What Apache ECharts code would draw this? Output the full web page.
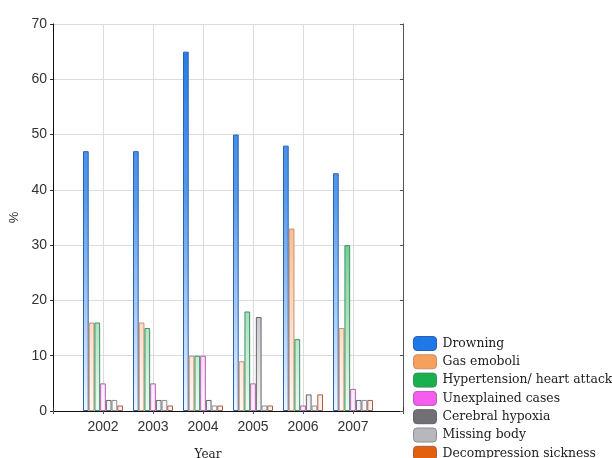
<!DOCTYPE html>
<html>
<head>
<meta charset="utf-8">
<script src="https://cdn.jsdelivr.net/npm/echarts@6/dist/echarts.min.js"></script>
<style>
html,body{margin:0;padding:0;background:#fff;}
#chart{width:612px;height:458px;}
</style>
</head>
<body>
<div id="chart"></div>
<script>
// ---- data ----
const years = ['2002', '2003', '2004', '2005', '2006', '2007'];
const seriesNames = ['Drowning', 'Gas emoboli', 'Hypertension/ heart attack', 'Unexplained cases', 'Cerebral hypoxia', 'Missing body', 'Decompression sickness'];
const drowning = [47, 47, 65, 50, 48, 43];
const gasEmboli = [16, 16, 10, 9, 33, 15];
const hypertension = [16, 15, 10, 18, 13, 30];
const unexplained = [5, 5, 10, 5, 1, 4];
const cerebralHypoxia = [2, 2, 2, 17, 3, 2];
const missingBody = [2, 2, 1, 1, 1, 2];
const decompression = [1, 1, 1, 1, 3, 2];
const yTicks = [0, 10, 20, 30, 40, 50, 60, 70];

// ---- styles ----
const fillColors = ['#1F78E8', '#F5A05C', '#18B04E', '#F55CF0', '#707075', '#B8B8BC', '#E2600E'];
const borderColors = ['#2A62B0', '#C98E6C', '#3C9062', '#B062B0', '#62626C', '#8C8C96', '#A0604C'];
const allValues = [drowning, gasEmboli, hypertension, unexplained, cerebralHypoxia, missingBody, decompression];

const W = 612, H = 458;
const gridLeft = 53, gridRight = 209, gridTop = 24, gridBottom = 47;
const plotBottomY = H - gridBottom;

function mixWhite(hex, t) {
  const r = parseInt(hex.slice(1, 3), 16), g = parseInt(hex.slice(3, 5), 16), b = parseInt(hex.slice(5, 7), 16);
  const m = c => Math.round(c + (255 - c) * t);
  return 'rgb(' + m(r) + ',' + m(g) + ',' + m(b) + ')';
}

const axisCats = [''].concat(years).concat([' ']);

const series = seriesNames.map((name, i) => ({
  name: name,
  type: 'bar',
  xAxisIndex: 0,
  yAxisIndex: 0,
  barGap: '0%',
  barCategoryGap: '20%',
  data: years.map((y, k) => [y, allValues[i][k]]),
  itemStyle: {
    color: new echarts.graphic.LinearGradient(0, gridTop, 0, plotBottomY, [
      { offset: 0, color: fillColors[i] },
      { offset: 0.45, color: mixWhite(fillColors[i], 0.25) },
      { offset: 1, color: mixWhite(fillColors[i], 0.93) }
    ], true),
    borderColor: borderColors[i],
    borderWidth: 1
  },
  emphasis: { disabled: true }
}));

const chart = echarts.init(document.getElementById('chart'), null, { renderer: 'canvas' });
chart.setOption({
  animation: false,
  backgroundColor: '#ffffff',
  grid: { left: gridLeft, right: gridRight, top: gridTop, bottom: gridBottom, containLabel: false, outerBoundsMode: 'none' },
  legend: {
    orient: 'vertical',
    left: 413,
    top: 336,
    height: 140,
    padding: 0,
    itemWidth: 23,
    itemHeight: 14,
    itemGap: 3.3,
    icon: 'roundRect',
    textStyle: { fontFamily: 'DejaVu Serif', fontSize: 12.4, lineHeight: 14, color: '#222', padding: [0, 0, 0, 1] },
    data: seriesNames.map((n, i) => ({ name: n, itemStyle: { color: fillColors[i], borderColor: borderColors[i], borderWidth: 1 } }))
  },
  xAxis: [
    {
      type: 'category',
      data: axisCats,
      boundaryGap: false,
      position: 'bottom',
      name: 'Year',
      nameLocation: 'middle',
      nameGap: 38,
      nameTextStyle: { fontFamily: 'DejaVu Serif', fontSize: 12, color: '#222', padding: [0, 40, 0, 0] },
      axisLine: { show: true, lineStyle: { color: '#111', width: 1 } },
      axisTick: { show: true, inside: true, length: 4, interval: 0, lineStyle: { color: '#333' } },
      axisLabel: { interval: 0, margin: 9, fontFamily: 'Liberation Sans', fontSize: 14, color: '#333' },
      splitLine: { show: true, interval: 0, lineStyle: { color: '#dcdcdc', width: 1 } }
    },
    {
      type: 'category',
      data: axisCats,
      boundaryGap: false,
      position: 'top',
      axisLine: { show: true, lineStyle: { color: '#111', width: 1 } },
      axisTick: { show: true, inside: true, length: 3, interval: 0, lineStyle: { color: '#555' } },
      axisLabel: { show: false },
      splitLine: { show: false }
    }
  ],
  yAxis: [
    {
      type: 'value',
      min: yTicks[0],
      max: yTicks[yTicks.length - 1],
      interval: 10,
      position: 'left',
      name: '%',
      nameLocation: 'middle',
      nameRotate: 90,
      nameGap: 31,
      nameTextStyle: { fontFamily: 'Liberation Sans', fontSize: 13, color: '#333' },
      axisLine: { show: true, lineStyle: { color: '#111', width: 1 } },
      axisTick: { show: true, length: 3, lineStyle: { color: '#333' } },
      axisLabel: { margin: 6, fontFamily: 'Liberation Sans', fontSize: 14, color: '#333' },
      splitLine: { show: true, lineStyle: { color: '#dcdcdc', width: 1 } }
    },
    {
      type: 'value',
      min: yTicks[0],
      max: yTicks[yTicks.length - 1],
      interval: 10,
      position: 'right',
      axisLine: { show: true, lineStyle: { color: '#555', width: 1 } },
      axisTick: { show: true, inside: true, length: 3, lineStyle: { color: '#555' } },
      axisLabel: { show: false },
      splitLine: { show: false }
    }
  ],
  series: series
});
</script>
</body>
</html>
